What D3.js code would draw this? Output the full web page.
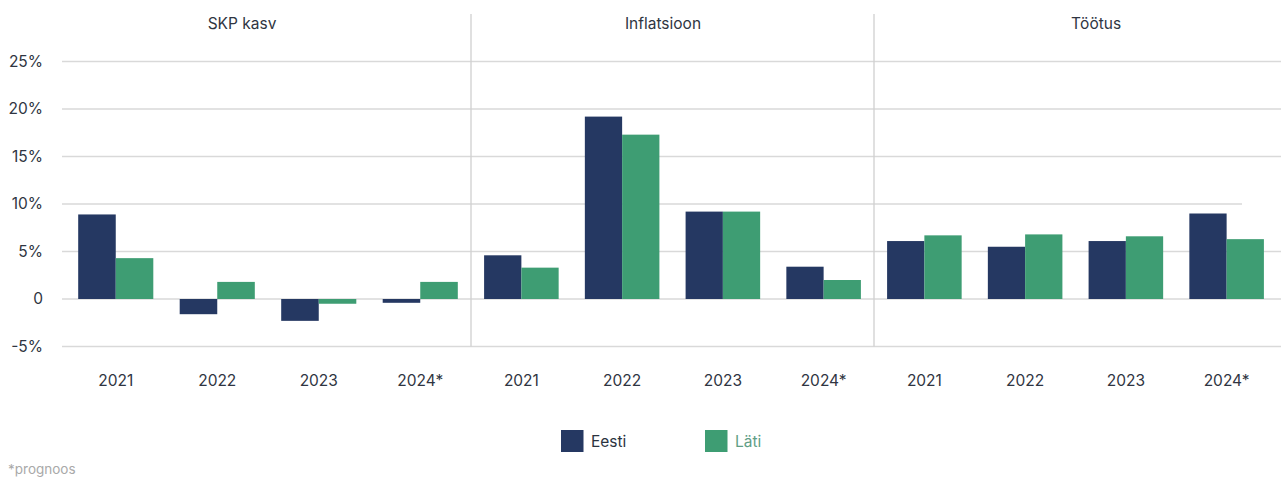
<!DOCTYPE html>
<html>
<head>
<meta charset="utf-8">
<script src="https://cdn.jsdelivr.net/npm/d3@7"></script>
<style>
  html, body { margin: 0; padding: 0; background: #fff; }
  svg { display: block; font-family: "Inter", "Lato", sans-serif; }
</style>
</head>
<body>
<svg id="chart" width="1281" height="482"></svg>
<script>
// Indicators shown as panels, years per panel, and the two countries
const panels = ["SKP kasv", "Inflatsioon", "Töötus"];
const years = ["2021", "2022", "2023", "2024*"];
const countries = ["Eesti", "Läti"];

// Values in percent, one array per indicator and country
const skpEesti = [8.9, -1.6, -2.3, -0.4];
const skpLati = [4.3, 1.8, -0.5, 1.8];
const inflEesti = [4.6, 19.2, 9.2, 3.4];
const inflLati = [3.3, 17.3, 9.2, 2.0];
const tootusEesti = [6.1, 5.5, 6.1, 9.0];
const tootusLati = [6.7, 6.8, 6.6, 6.3];

const yTicks = [-5, 0, 5, 10, 15, 20, 25];
const footnote = "*prognoos";

const seriesByPanel = [
  [skpEesti, skpLati],
  [inflEesti, inflLati],
  [tootusEesti, tootusLati]
];

const colors = { "Eesti": "#253862", "Läti": "#3e9d73" };
const legendText = { "Eesti": "#2b3340", "Läti": "#5f9e86" };

const svg = d3.select("#chart");
const W = 1281;

const y = d3.scaleLinear().domain([-5, 25]).range([346.5, 61.5]);

// Panel extents along x
const panelStarts = [65, 471, 874];
const panelEnds = [471, 874, 1277];

// Horizontal gridlines (the 10% line stops short at the right)
const grid = svg.append("g");
yTicks.forEach(t => {
  grid.append("line")
    .attr("x1", 62).attr("x2", t === 10 ? 1242 : W)
    .attr("y1", y(t)).attr("y2", y(t))
    .attr("stroke", "#d9d9d9").attr("stroke-width", 1.3);
});

// Y axis labels
const yAxis = d3.axisLeft(y).tickValues(yTicks)
  .tickFormat(d => d === 0 ? "0" : d + "%")
  .tickSize(0).tickPadding(0);
const yg = svg.append("g").attr("transform", "translate(43,0)").call(yAxis);
yg.select(".domain").remove();
yg.selectAll("text")
  .attr("fill", "#2f3542")
  .style("font-size", "15.5px")
  .style("font-family", "Inter, Lato, sans-serif");

// Vertical panel dividers
[471, 874].forEach(xv => {
  svg.append("line")
    .attr("x1", xv).attr("x2", xv)
    .attr("y1", 14).attr("y2", y(-5))
    .attr("stroke", "#d0d0d0").attr("stroke-width", 1.3);
});

const titleX = [242, 663, 1096];

panels.forEach((p, i) => {
  const x0 = d3.scaleBand().domain(years)
    .range([panelStarts[i], panelEnds[i]])
    .paddingInner(0.26).paddingOuter(0.13);
  const x1 = d3.scaleBand().domain(countries).range([0, x0.bandwidth()]);

  const g = svg.append("g");
  years.forEach((yr, j) => {
    countries.forEach((c, k) => {
      const v = seriesByPanel[i][k][j];
      g.append("rect")
        .attr("x", x0(yr) + x1(c))
        .attr("width", x1.bandwidth())
        .attr("y", y(Math.max(0, v)))
        .attr("height", Math.abs(y(v) - y(0)))
        .attr("fill", colors[c]);
    });
  });

  // Year labels
  const xAxis = d3.axisBottom(x0).tickSize(0).tickPadding(0);
  const xg = svg.append("g").attr("transform", "translate(0,375)").call(xAxis);
  xg.select(".domain").remove();
  xg.selectAll("text")
    .attr("fill", "#2f3542")
    .style("font-size", "15.5px")
    .style("font-family", "Inter, Lato, sans-serif");

  // Panel title
  svg.append("text")
    .attr("x", titleX[i]).attr("y", 29)
    .attr("text-anchor", "middle")
    .attr("fill", "#2f3542")
    .style("font-size", "15.5px")
    .text(p);
});

// Legend
const legendX = [561, 705];
countries.forEach((c, k) => {
  svg.append("rect")
    .attr("x", legendX[k]).attr("y", 430)
    .attr("width", 22.5).attr("height", 22)
    .attr("fill", colors[c]);
  svg.append("text")
    .attr("x", legendX[k] + 30).attr("y", 447)
    .attr("fill", legendText[c])
    .style("font-size", "15.5px")
    .text(c);
});

// Footnote
svg.append("text")
  .attr("x", 8).attr("y", 474)
  .attr("fill", "#a9a9a9")
  .style("font-size", "13.5px")
  .text(footnote);
</script>
</body>
</html>
